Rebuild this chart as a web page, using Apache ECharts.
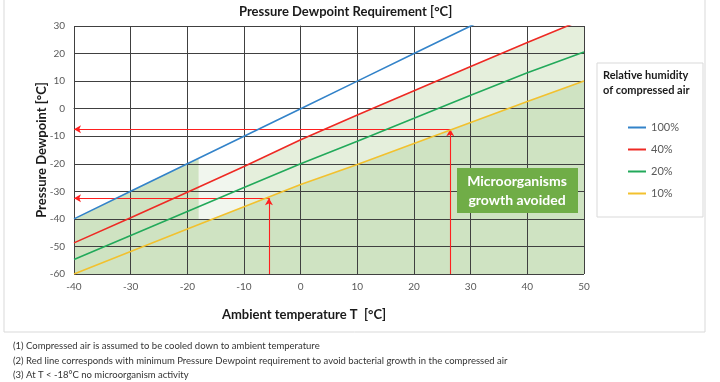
<!DOCTYPE html>
<html><head><meta charset="utf-8">
<script src="https://cdn.jsdelivr.net/npm/echarts@6/dist/echarts.min.js"></script>
<style>html,body{margin:0;padding:0;background:#fff}#c{width:720px;height:382px}</style>
</head><body><div id="c"></div>
<script>
// ---- data ----
const temps = [-40, -30, -20, -10, 0, 10, 20, 30, 40, 50];
const rh100 = [-40, -30, -20, -10, 0, 10, 20, 30, 40, 50];
const rh40  = [-48.7, -39.6, -30.3, -21, -11.3, -2.3, 6.5, 15.3, 24, 32.5];
const rh20  = [-54.7, -46, -37.3, -28.6, -20, -11.8, -3.5, 4.9, 13, 20.6];
const rh10  = [-60, -51.8, -43.7, -35.6, -27.5, -20.3, -12.6, -5, 2.6, 10];
const seriesNames = ['100%', '40%', '20%', '10%'];
const seriesColors = ['#3383c9', '#ee2a24', '#22a95a', '#f2c12e'];
// zone boundaries
const lightZone = [[-18, -28.4], [-10, -21], [0, -11.3], [10, -2.3], [20, 6.5], [30, 15.3], [40, 24], [50, 32.5]];
const paleZone = [[-18, -20], [-10, -20]];
const darkZone = [[-40, -40], [-18, -18], [-18, -40], [-15.5, -40], [-10, -35.6], [0, -27.5], [10, -20.3], [20, -12.6], [30, -5], [40, 2.6], [50, 10]];
// reading arrows: [ambient T, dewpoint]
const arrowA = [26.4, -7.5];
const arrowB = [-5.6, -32.5];
const footnotes = [
  '(1) Compressed air is assumed to be cooled down to ambient temperature',
  '(2) Red line corresponds with minimum Pressure Dewpoint requirement to avoid bacterial growth in the compressed air',
  '(3) At T < -18°C no microorganism activity'
];

const FONT = 'Lato, "Open Sans", sans-serif';
const chart = echarts.init(document.getElementById('c'), null, {renderer: 'canvas'});
const zip = (ys) => temps.map((t, i) => [t, ys[i]]);
const lineSets = [rh100, rh40, rh20, rh10];

const series = [
  {type: 'line', data: lightZone, showSymbol: false, silent: true, lineStyle: {width: 0}, areaStyle: {color: '#e5efdc', opacity: 1, origin: 'start'}, z: 1},
  {type: 'line', data: paleZone, showSymbol: false, silent: true, lineStyle: {width: 0}, areaStyle: {color: '#f1f6ee', opacity: 1, origin: -40}, z: 1},
  {type: 'line', data: darkZone, showSymbol: false, silent: true, lineStyle: {width: 0}, areaStyle: {color: '#cfe3c2', opacity: 1, origin: 'start'}, z: 1}
];
lineSets.forEach((ys, i) => {
  series.push({name: seriesNames[i], type: 'line', data: zip(ys), showSymbol: false, clip: true,
    lineStyle: {color: seriesColors[i], width: 1.6}, itemStyle: {color: seriesColors[i]}, z: 6});
});
series.push({type: 'line', data: [], silent: true, z: 7,
  markLine: {silent: true, symbol: ['none', 'arrow'], symbolSize: [6, 7], label: {show: false},
    lineStyle: {color: '#ff1f1f', width: 1.1, type: 'solid'},
    data: [
      [{coord: [arrowA[0], -60]}, {coord: [arrowA[0], arrowA[1]]}],
      [{coord: [arrowA[0], arrowA[1]]}, {coord: [-40, arrowA[1]]}],
      [{coord: [arrowB[0], -60]}, {coord: [arrowB[0], arrowB[1]]}],
      [{coord: [arrowB[0], arrowB[1]]}, {coord: [-40, arrowB[1]]}]
    ]}});

chart.setOption({
  animation: false,
  textStyle: {fontFamily: FONT},
  title: {text: 'Pressure Dewpoint Requirement [°C]', left: 234, top: 0,
    textStyle: {fontFamily: FONT, fontSize: 13, fontWeight: 'bold', color: '#1a1a1a'}},
  grid: {left: 74, right: 136, top: 26, bottom: 108, containLabel: false},
  xAxis: {type: 'value', min: -40, max: 50, interval: 10, z: 4,
    name: 'Ambient temperature T  [°C]', nameLocation: 'middle', nameGap: 34, nameMoveOverlap: false,
    nameTextStyle: {fontFamily: FONT, fontSize: 13, fontWeight: 'bold', color: '#1a1a1a', padding: [0, 50, 0, 0]},
    axisLine: {show: true, lineStyle: {color: '#404040', width: 1}}, axisTick: {show: false},
    axisLabel: {color: '#595959', fontSize: 10, margin: 8, fontFamily: FONT},
    splitLine: {show: true, lineStyle: {color: '#404040', width: 1}}},
  yAxis: {type: 'value', min: -60, max: 30, interval: 10, z: 4,
    name: 'Pressure Dewpoint [°C]', nameLocation: 'middle', nameGap: 26, nameMoveOverlap: false,
    nameTextStyle: {fontFamily: FONT, fontSize: 13, fontWeight: 'bold', color: '#1a1a1a'},
    axisLine: {show: true, lineStyle: {color: '#404040', width: 1}}, axisTick: {show: false},
    axisLabel: {color: '#595959', fontSize: 10, margin: 9, fontFamily: FONT},
    splitLine: {show: true, lineStyle: {color: '#404040', width: 1}}},
  legend: {data: seriesNames, orient: 'vertical', left: 623, top: 116, itemWidth: 18, itemHeight: 2,
    itemGap: 9, icon: 'rect', textStyle: {color: '#595959', fontSize: 11, fontFamily: FONT, lineHeight: 13}},
  graphic: [
    {type: 'rect', shape: {x: 4, y: -2, width: 701, height: 334}, style: {fill: 'none', stroke: '#d9d9d9', lineWidth: 1}, z: -10, silent: true},
    {type: 'rect', shape: {x: 597, y: 63, width: 106, height: 154}, style: {fill: '#fff', stroke: '#d9d9d9', lineWidth: 1}, z: -5, silent: true},
    {type: 'text', left: 603, top: 68, style: {text: 'Relative humidity\nof compressed air', font: 'bold 11px ' + FONT, fill: '#1a1a1a', lineHeight: 15}},
    {type: 'rect', shape: {x: 457, y: 168, width: 121, height: 45}, style: {fill: '#70ad47'}, z: 20},
    {type: 'text', x: 517, y: 172, z: 21, style: {text: 'Microorganisms\ngrowth avoided', font: 'bold 14px ' + FONT, fill: '#ffffff', align: 'center', lineHeight: 19}},
    {type: 'text', left: 13, top: 339, style: {text: footnotes.join('\n'), font: '9.5px ' + FONT, fill: '#333', lineHeight: 14.5}}
  ],
  series: series
});
</script></body></html>
